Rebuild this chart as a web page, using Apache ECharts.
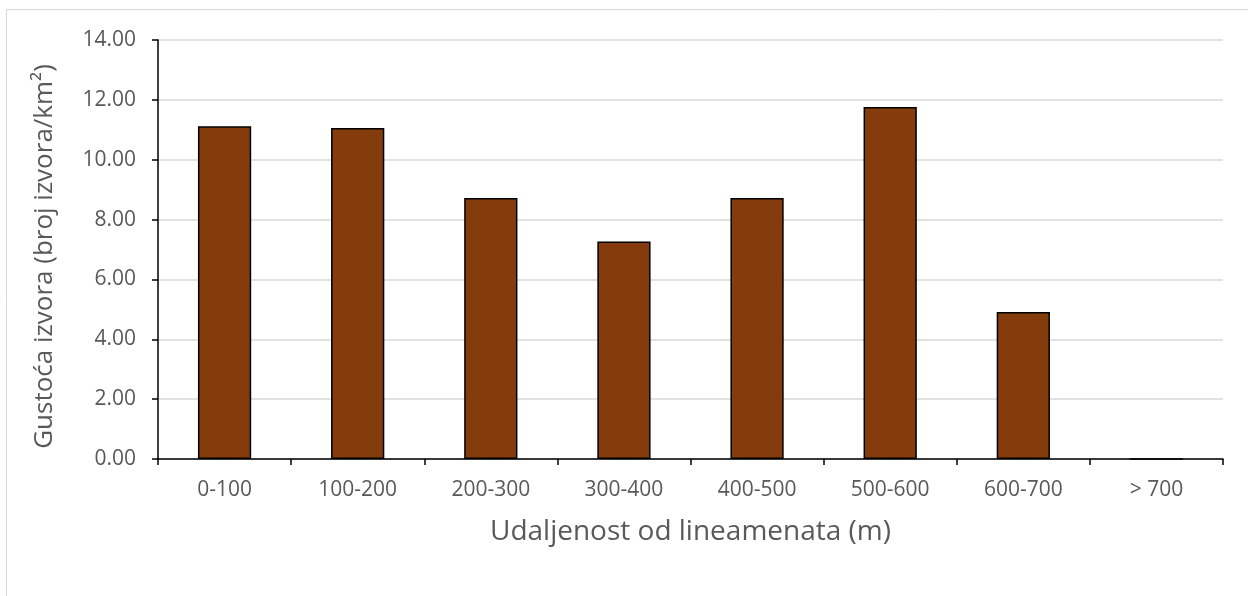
<!DOCTYPE html>
<html><head><meta charset="utf-8">
<script src="https://cdn.jsdelivr.net/npm/echarts@6/dist/echarts.min.js"></script>
<style>html,body{margin:0;padding:0;background:#fff}#c{width:1248px;height:596px}</style>
</head><body><div id="c"></div>
<script>
const categories = ['0-100','100-200','200-300','300-400','400-500','500-600','600-700','> 700'];
const values = [11.12, 11.06, 8.72, 7.27, 8.72, 11.76, 4.91, 0];
const yTicks = [0, 2, 4, 6, 8, 10, 12, 14];
const FONT = 'Open Sans';
const chart = echarts.init(document.getElementById('c'), null, {renderer:'canvas'});
chart.setOption({
  backgroundColor:'#fff',
  animation:false,
  graphic:[{type:'rect', shape:{x:6.5,y:9.5,width:1260,height:600}, style:{fill:'none',stroke:'#d9d9d9',lineWidth:1}, silent:true}],
  grid:{left:158, right:25, top:40, bottom:137, containLabel:false},
  xAxis:{type:'category', data:categories,
    axisLine:{lineStyle:{color:'#000',width:1.5}},
    axisTick:{show:true, length:6, lineStyle:{color:'#000',width:1.5}},
    axisLabel:{color:'#595959', fontSize:21, fontFamily:FONT, margin:21},
    name:'Udaljenost od lineamenata (m)', nameLocation:'middle', nameGap:59,
    nameTextStyle:{color:'#595959', fontSize:28, fontFamily:FONT}
  },
  yAxis:{type:'value', min:yTicks[0], max:yTicks[yTicks.length-1], interval:2,
    axisLine:{show:true, lineStyle:{color:'#000',width:1.5}},
    axisTick:{show:true, length:6, lineStyle:{color:'#000',width:1.5}},
    splitLine:{lineStyle:{color:'#d9d9d9',width:1.5}},
    axisLabel:{color:'#595959', fontSize:21, fontFamily:FONT, margin:22, formatter:v=>v.toFixed(2)},
    name:'Gustoća izvora (broj izvora/km²)', nameLocation:'middle', nameGap:100,
    nameTextStyle:{color:'#595959', fontSize:26, fontFamily:FONT, padding:[0,14,0,0]}
  },
  series:[{type:'bar', data:values, barWidth:'40%',
    itemStyle:{color:'#843C0C', borderColor:'#000', borderWidth:1.5}}]
});
</script></body></html>
